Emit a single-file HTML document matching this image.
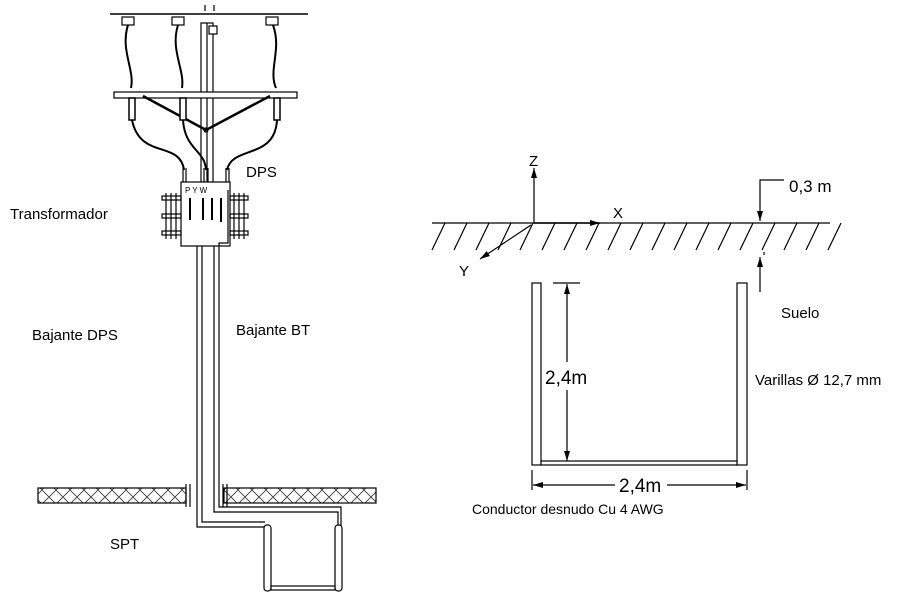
<!DOCTYPE html>
<html><head><style>
html,body{margin:0;padding:0;background:#fff;}
svg{display:block;font-family:"Liberation Sans",Arial,sans-serif;}
</style></head><body>
<svg width="900" height="605" viewBox="0 0 900 605" xmlns="http://www.w3.org/2000/svg">
<defs>
<pattern id="hx" width="14" height="14" patternUnits="userSpaceOnUse">
<path d="M0 0L14 14M14 0L0 14" stroke="#333" stroke-width="0.8"/>
</pattern>
<marker id="ar" markerWidth="10" markerHeight="8" refX="10" refY="4" orient="auto" markerUnits="userSpaceOnUse">
<path d="M0 1L10 4L0 7Z" fill="#000"/>
</marker>
</defs>
<g stroke="#000" fill="none" stroke-width="1.2">
<!-- top line -->
<line x1="110" y1="14" x2="308" y2="14" stroke-width="1.5"/>
<!-- insulators -->
<rect x="122" y="17" width="12" height="8" fill="#fff"/>
<rect x="172" y="17" width="12" height="8" fill="#fff"/>
<rect x="266" y="17" width="12" height="8" fill="#fff"/>
<path d="M205 5v6M214 5v6" />
<!-- pole -->
<rect x="201" y="23" width="12" height="160" fill="#fff"/>
<line x1="207" y1="23" x2="207" y2="183"/>
<rect x="209" y="26" width="8" height="8" fill="#fff"/>
<!-- crossarm -->
<rect x="114" y="92" width="183" height="6" fill="#fff"/>
<path d="M143 96L206 130L270 96" stroke-width="2.5"/>
<circle cx="206" cy="130" r="2"/>
<!-- wires -->
<path d="M128 25C120 50 135 70 131 88" stroke-width="2"/>
<path d="M178 25C170 50 185 70 182 88" stroke-width="2"/>
<path d="M273 25C282 50 268 70 276 88" stroke-width="2"/>
<rect x="129" y="98" width="6" height="22" fill="#fff" stroke-width="1.5"/>
<rect x="180" y="98" width="6" height="22" fill="#fff" stroke-width="1.5"/>
<rect x="274" y="98" width="6" height="22" fill="#fff" stroke-width="1.5"/>
<path d="M132 120C140 160 180 140 184 170" stroke-width="2"/>
<path d="M183 120C185 150 205 150 206 170" stroke-width="2"/>
<path d="M277 120C275 160 232 145 227 170" stroke-width="2"/>
<path d="M183 168v15M186 168v15M204 168v15M208 168v15M226 168v15M229 168v15"/>
<!-- transformer -->
<rect x="181" y="182" width="49" height="64" fill="#fff"/>
<rect x="162" y="196" width="19" height="4"/><rect x="162" y="214" width="19" height="4"/><rect x="162" y="231" width="19" height="4"/>
<path d="M166 193v46M171 193v46M176 193v46"/>
<rect x="230" y="196" width="18" height="4"/><rect x="230" y="214" width="18" height="4"/><rect x="230" y="231" width="18" height="4"/>
<path d="M234 193v46M239 193v46M244 193v46"/>
<g stroke-width="2"><path d="M190 198v22M203 198v22M212 198v22M221 198v24"/></g>
<!-- down conductors -->
<path d="M197 246V527H265M202 246V522H265" />
<path d="M214 246V512H338V527M219 246V243H228V190M219 246V507H341V527"/>
<!-- ground -->
<rect x="38" y="488" width="148" height="15" fill="url(#hx)"/>
<rect x="224" y="488" width="152" height="15" fill="url(#hx)"/>
<path d="M186 484v23M190 484v23M223 484v23M227 484v23"/>
<!-- SPT rods -->
<rect x="264" y="525" width="7" height="66" rx="3" fill="#fff"/>
<rect x="335" y="525" width="7" height="66" rx="3" fill="#fff"/>
<rect x="271" y="586" width="64" height="4" fill="#fff"/>
<!-- right diagram -->
<line x1="432" y1="223" x2="830" y2="223"/>
<path d="M445 223l-13 27M467 223l-13 27M489 223l-13 27M511 223l-13 27M533 223l-13 27M555 223l-13 27M577 223l-13 27M599 223l-13 27M621 223l-13 27M643 223l-13 27M665 223l-13 27M687 223l-13 27M709 223l-13 27M731 223l-13 27M753 223l-13 27M775 223l-13 27M797 223l-13 27M819 223l-13 27M841 223l-13 27"/>
<line x1="534" y1="223" x2="534" y2="168" marker-end="url(#ar)"/>
<line x1="534" y1="223" x2="600" y2="223" marker-end="url(#ar)" stroke-width="1.5"/>
<line x1="531" y1="225" x2="480" y2="259" marker-end="url(#ar)"/>
<path d="M784 180H760V221" marker-end="url(#ar)"/>
<line x1="760" y1="292" x2="760" y2="257" marker-end="url(#ar)"/>
<line x1="764" y1="252" x2="764" y2="255"/>
<rect x="532" y="283" width="9" height="182" fill="#fff"/>
<rect x="737" y="283" width="10" height="182" fill="#fff"/>
<rect x="541" y="461" width="196" height="4" fill="#fff"/>
<line x1="553" y1="283" x2="580" y2="283"/>
<line x1="567" y1="362" x2="567" y2="284" marker-end="url(#ar)"/>
<line x1="567" y1="390" x2="567" y2="461" marker-end="url(#ar)"/>
<path d="M532 470v20M747 470v20"/>
<line x1="615" y1="485" x2="533" y2="485" marker-end="url(#ar)"/>
<line x1="667" y1="485" x2="746" y2="485" marker-end="url(#ar)"/>
</g>
<g font-size="15" fill="#000">
<text x="10" y="219">Transformador</text>
<text x="246" y="177">DPS</text>
<text x="32" y="340">Bajante DPS</text>
<text x="236" y="335">Bajante BT</text>
<text x="110" y="549">SPT</text>
<text x="529" y="166">Z</text>
<text x="613" y="218">X</text>
<text x="459" y="276">Y</text>
<text x="789" y="192" font-size="17">0,3 m</text>
<text x="781" y="318">Suelo</text>
<text x="755" y="385">Varillas Ø 12,7 mm</text>
<text x="545" y="384" font-size="19">2,4m</text>
<text x="619" y="492" font-size="19">2,4m</text>
<text x="472" y="514" font-size="14">Conductor desnudo Cu 4 AWG</text>
<text x="185" y="193" font-size="8">P Y W</text>
</g>
</svg>
</body></html>
